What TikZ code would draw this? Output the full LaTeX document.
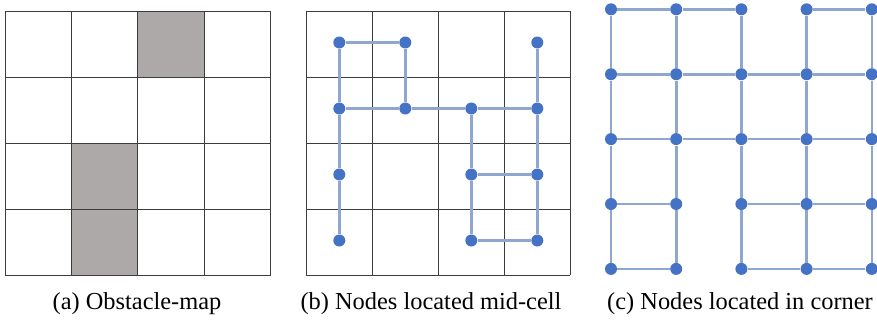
\documentclass[tikz,border=0pt]{standalone}
\usepackage{fontspec}
\setmainfont{Liberation Serif}
\definecolor{gridline}{RGB}{60,60,60}
\definecolor{obstacle}{RGB}{173,169,168}
\definecolor{vertex}{RGB}{68,114,196}
\definecolor{link}{RGB}{143,166,207}
\tikzset{
  cellgrid/.style={draw=gridline, line width=0.5pt},
  blocked/.style={fill=obstacle, draw=gridline, line width=0.5pt},
  vtx/.style={circle, fill=vertex, draw=none, inner sep=0pt, minimum size=6pt},
  lnk/.style={draw=link, line width=1.3pt},
  caption/.style={anchor=base, inner sep=0pt, font=\fontsize{12.2}{14}\selectfont},
}
\begin{document}
\begin{tikzpicture}[x=0.5pt, y=-0.5pt]
\useasboundingbox (0,0) rectangle (877,321);

% (a) obstacle map: 4x4 cells, three blocked
\fill[obstacle] (137.8,11) rectangle (204.1,77);
\fill[obstacle] (71.4,143) rectangle (137.8,275);
\foreach \x in {5,71.4,137.8,204.1,270.5}
  \draw[cellgrid] (\x,11) -- (\x,275);
\foreach \y in {11,77,143,209,275}
  \draw[cellgrid] (5,\y) -- (270.5,\y);
\node[caption] (capa) at (137,309) {(a) Obstacle-map};

% (b) graph with one vertex in the middle of each free cell
\foreach \x in {306.3,372.3,438.3,504.3,570.3}
  \draw[cellgrid] (\x,11) -- (\x,275);
\foreach \y in {11,77,143,209,275}
  \draw[cellgrid] (306.3,\y) -- (570.3,\y);
\foreach \i/\j in {0/0,1/0,3/0,0/1,1/1,2/1,3/1,0/2,2/2,3/2,0/3,2/3,3/3}
  \node[vtx] (b-\i-\j) at ({339.3+66*\i},{42.5+66*\j}) {};
\draw[lnk] (b-0-0) -- (b-1-0);
\draw[lnk] (b-0-0) -- (b-0-1);
\draw[lnk] (b-1-0) -- (b-1-1);
\draw[lnk] (b-3-0) -- (b-3-1);
\draw[lnk] (b-0-1) -- (b-1-1);
\draw[lnk] (b-1-1) -- (b-2-1);
\draw[lnk] (b-2-1) -- (b-3-1);
\draw[lnk] (b-0-1) -- (b-0-2);
\draw[lnk] (b-0-2) -- (b-0-3);
\draw[lnk] (b-2-1) -- (b-2-2);
\draw[lnk] (b-2-2) -- (b-2-3);
\draw[lnk] (b-3-1) -- (b-3-2);
\draw[lnk] (b-3-2) -- (b-3-3);
\draw[lnk] (b-2-2) -- (b-3-2);
\draw[lnk] (b-2-3) -- (b-3-3);
\node[caption] (capb) at (431,309) {(b) Nodes located mid-cell};

% (c) graph with vertices on cell corners, edges along free cell borders
\foreach \i in {0,...,4}
  \foreach \j in {0,...,4}
    \node[vtx] (c-\i-\j) at ({611+65.2*\i},{9.3+64.9*\j}) {};
\foreach \i/\j in {0/0,1/0,3/0,0/1,1/1,2/1,3/1,0/2,2/2,3/2,0/3,2/3,3/3}{
  \pgfmathtruncatemacro{\ii}{\i+1}
  \pgfmathtruncatemacro{\jj}{\j+1}
  \draw[lnk] (c-\i-\j) -- (c-\ii-\j);
  \draw[lnk] (c-\i-\jj) -- (c-\ii-\jj);
  \draw[lnk] (c-\i-\j) -- (c-\i-\jj);
  \draw[lnk] (c-\ii-\j) -- (c-\ii-\jj);
}
\node[caption] (capc) at (740,309) {(c) Nodes located in corner};
\end{tikzpicture}
\end{document}
